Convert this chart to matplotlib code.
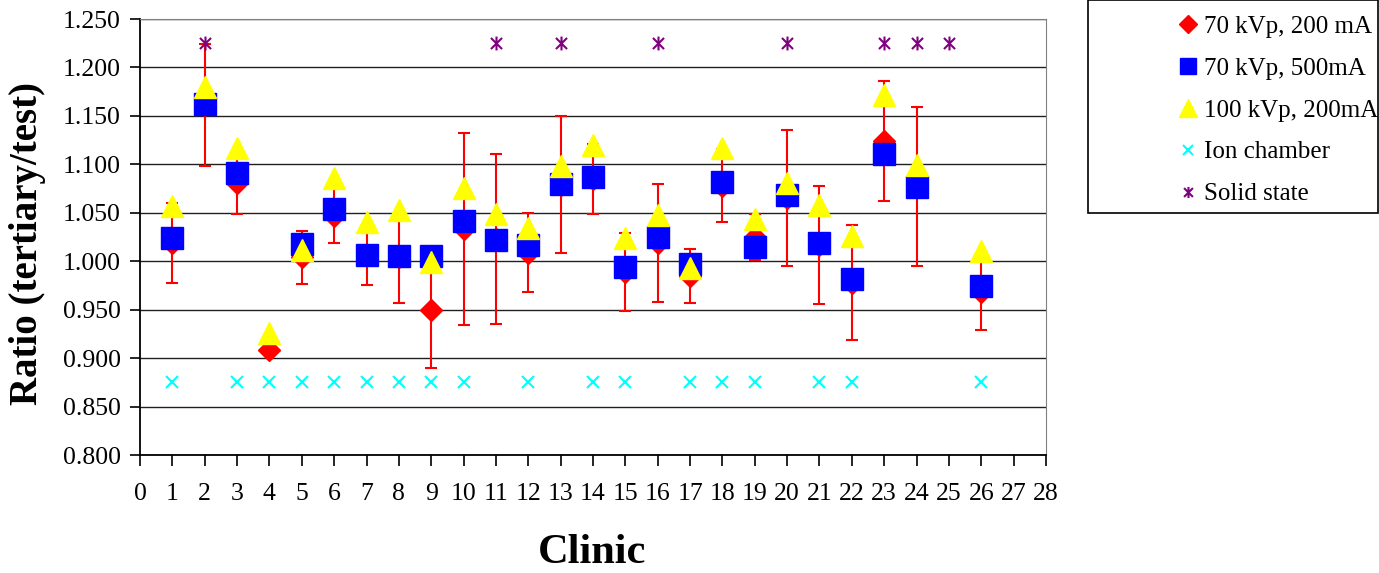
import matplotlib
matplotlib.use("Agg")
import matplotlib.pyplot as plt
import numpy as np
from matplotlib.path import Path
from matplotlib.lines import Line2D
from matplotlib.patches import Rectangle

plt.rcParams['font.family'] = ['Liberation Serif', 'DejaVu Serif']

nan = np.nan
clinics = list(range(1, 27))

# 70 kVp, 200 mA (red diamonds, carries the error bars)
kv70_ma200 = [1.019, 1.161, 1.081, 0.908, 1.004, 1.047, 1.006, 1.004, 0.950, 1.033,
              1.023, 1.009, 1.079, 1.085, 0.989, 1.019, 0.985, 1.078, 1.025, 1.065,
              1.017, 0.978, 1.124, 1.077, nan, 0.968]
kv70_ma200_err = [0.041, 0.063, 0.032, 0.005, 0.027, 0.028, 0.031, 0.047, 0.060, 0.099,
                  0.088, 0.041, 0.071, 0.036, 0.040, 0.061, 0.028, 0.038, 0.024, 0.070,
                  0.061, 0.059, 0.062, 0.082, nan, 0.039]
# 70 kVp, 500mA (blue squares)
kv70_ma500 = [1.024, 1.162, 1.091, nan, 1.018, 1.054, 1.006, 1.005, 1.005, 1.042,
              1.022, 1.017, 1.080, 1.087, 0.994, 1.025, 0.997, 1.082, 1.015, 1.068,
              1.019, 0.982, 1.111, 1.077, nan, 0.974]
# 100 kVp, 200mA (yellow triangles)
kv100_ma200 = [1.057, 1.180, 1.117, 0.926, 1.012, 1.086, 1.040, 1.053, 0.999, 1.076,
               1.049, 1.034, 1.098, 1.120, 1.024, 1.048, 0.993, 1.117, 1.044, 1.081,
               1.058, 1.026, 1.172, 1.099, nan, 1.011]

ion_clinics = [1, 3, 4, 5, 6, 7, 8, 9, 10, 12, 14, 15, 17, 18, 19, 21, 22, 26]
ion_level = 0.875
solid_clinics = [2, 11, 13, 16, 20, 23, 24, 25]
solid_level = 1.225

# asterisk marker (x with vertical bar), like the spreadsheet "star"
star = Path([(0, -1), (0, 1), (-0.8, -0.8), (0.8, 0.8), (-0.8, 0.8), (0.8, -0.8)],
            [Path.MOVETO, Path.LINETO, Path.MOVETO, Path.LINETO, Path.MOVETO, Path.LINETO])

fig = plt.figure(figsize=(13.79, 5.73), dpi=100)
ax = fig.add_axes([140/1379, 118/573, 906/1379, 436/573])

ax.errorbar(clinics, kv70_ma200, yerr=kv70_ma200_err, fmt='D', color='red', ms=11.5,
            mec='red', ecolor='red', elinewidth=1.5, capsize=4.3, capthick=1.5, zorder=3)
ax.plot(clinics, kv70_ma500, 's', color='#0000FF', ms=15.6, zorder=4)
ax.plot(clinics, kv100_ma200, '^', color='#FFFF00', ms=16.2, zorder=5)
ax.plot(ion_clinics, [ion_level]*len(ion_clinics), 'x', color='#00FFFF', ms=8, mew=1.5, zorder=6)
ax.plot(solid_clinics, [solid_level]*len(solid_clinics), marker=star, ls='none',
        color='#800080', ms=10, mew=1.5, zorder=6)

ax.set_xlim(0, 28)
ax.set_ylim(0.8, 1.25)
ax.set_xticks(range(0, 29))
ax.set_yticks(np.arange(0.80, 1.2501, 0.05))
ax.set_yticklabels(['%.3f' % v for v in np.arange(0.80, 1.2501, 0.05)])
ax.yaxis.grid(True, color='#202020', lw=1.0)
ax.set_axisbelow(True)
ax.tick_params(axis='y', direction='out', length=7, width=1.2, pad=7, labelsize=18.5)
ax.tick_params(axis='x', direction='out', length=8, width=1.2, pad=12, labelsize=18.5)
ax.spines['left'].set_color('black')
ax.spines['bottom'].set_color('black')
ax.spines['left'].set_linewidth(1.3)
ax.spines['bottom'].set_linewidth(1.3)
ax.spines['top'].set_color('#808080')
ax.spines['right'].set_color('#808080')

fig.text(28/1379, 1 - 244/573, 'Ratio (tertiary/test)', rotation=90, ha='center', va='center',
         fontsize=28, fontweight='bold')
fig.text(592/1379, 1 - 553/573, 'Clinic', ha='center', va='center', fontsize=30.5, fontweight='bold')

# legend box
fig.patches.append(Rectangle((1088/1379, 1 - 213/573), 290/1379, 213/573, transform=fig.transFigure,
                             fill=False, edgecolor='black', lw=1.2))
handles = [Line2D([], [], marker='D', color='red', ls='none', ms=9),
           Line2D([], [], marker='s', color='#0000FF', ls='none', ms=11),
           Line2D([], [], marker='^', color='#FFFF00', ls='none', ms=12.5),
           Line2D([], [], marker='x', color='#00FFFF', ls='none', ms=7.5, mew=1.5),
           Line2D([], [], marker=star, color='#800080', ls='none', ms=8, mew=1.5)]
labels = ['70 kVp, 200 mA', '70 kVp, 500mA', '100 kVp, 200mA', 'Ion chamber', 'Solid state']
fig.legend(handles, labels, loc='upper left', bbox_to_anchor=(1175/1379, 1 - 15/573),
           frameon=False, fontsize=18, handlelength=1.0, handletextpad=0.15,
           labelspacing=0.78, borderpad=0, borderaxespad=0)

fig.savefig('out.png', dpi=100)
